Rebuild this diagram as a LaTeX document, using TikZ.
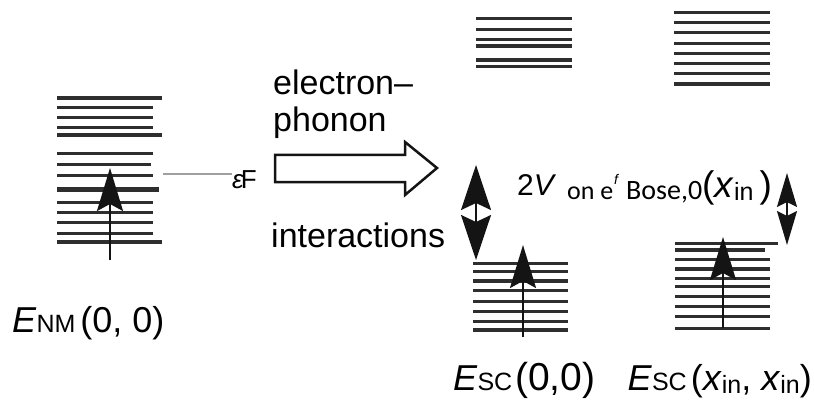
\documentclass[tikz,border=0pt]{standalone}
\usepackage{fontspec}
\setmainfont{Liberation Sans}
\newfontfamily\calfont{Carlito}
\usetikzlibrary{arrows.meta}
\usepackage{xcolor}
\definecolor{levelink}{HTML}{141414}
\definecolor{levelgray}{HTML}{2E2E2E}
\definecolor{fermigray}{HTML}{A0A0A0}

\newcommand{\lblfont}{\fontsize{36}{40}\selectfont}
\newcommand{\subfont}{\fontsize{25}{28}\selectfont}
\newcommand{\xinsym}{\textit{x}\raisebox{-3pt}{\subfont in}}

\tikzset{
  levelline/.style={draw=levelgray, line width=3.2pt},
  uparrow/.style={draw=levelink, line width=2.2pt,
    -{Stealth[length=43pt, width=26pt, inset=7pt]}},
  gaparrow/.style={draw=levelink, line width=2pt,
    {Stealth[length=45pt, width=30pt, inset=7pt]}-{Stealth[length=45pt, width=30pt, inset=7pt]}},
  smallgap/.style={draw=levelink, line width=2pt,
    {Stealth[length=34pt, width=20pt, inset=5pt]}-{Stealth[length=34pt, width=20pt, inset=5pt]}},
  blockarrow/.style={draw=levelink, fill=white, line width=2.5pt, line join=miter},
  arrowtext/.style={anchor=base west, inner sep=0pt, font=\fontsize{34}{38}\selectfont},
  statelabel/.style={inner sep=0pt, font=\lblfont}
}

\begin{document}
\begin{tikzpicture}[x=1pt, y=-1pt]

  \useasboundingbox (0,0) rectangle (814,401);

  % Normal metal levels
  \foreach \y/\xr/\lw in {98.3/162/3.6, 107.3/153/2.8, 117.7/153/3.2, 127.7/153/2.8,
      135/162/3.6, 154/153/3, 165/151/3, 175.7/153/3.2, 189.3/159/5.5,
      202.3/153/3.2, 212.3/153/3.2, 222.7/153/3.2, 233.3/153/3.2, 241.7/162/3.6} {
    \draw[levelline, line width=\lw pt] (57,\y) -- (\xr,\y);
  }

  % Fermi level marker
  \coordinate (fermistart) at (163,174);
  \node[anchor=base west, inner sep=0pt, font=\fontsize{26}{28}\selectfont] (ef) at (232,188)
    {\textit{ε}\kern-3pt F};
  \draw[fermigray, line width=2.5pt] (fermistart) -- (ef.west |- fermistart);

  % Occupation arrow (normal metal)
  \coordinate (nmtail) at (110,260);
  \coordinate (nmtip) at (110,168);
  \draw[uparrow] (nmtail) -- (nmtip);

  % Block arrow and its caption
  \node[arrowtext] (elec) at (273,95) {electron–};
  \node[arrowtext] (phon) at (273,132) {phonon};
  \draw[blockarrow] (275,155) -- (405,155) -- (405,142) -- (437,168)
    -- (405,195) -- (405,182) -- (275,182) -- cycle;
  \node[arrowtext] (inter) at (271,247) {interactions};

  % Superconductor, upper levels
  \foreach \y in {18.3, 29.3, 39.3, 46, 60, 66.7} {
    \draw[levelline] (476,\y) -- (572,\y);
  }
  \foreach \y in {12.3, 22.7, 32.7, 43.3, 53.3, 63.3, 73.3, 84} {
    \draw[levelline] (674,\y) -- (770,\y);
  }

  % Superconductor, lower levels
  \foreach \y in {263.3, 271.7, 281, 290.7, 301.7, 311.7, 321.7, 330} {
    \draw[levelline] (473,\y) -- (568,\y);
  }
  \draw[levelline] (675,243.3) -- (778,243.3);
  \draw[levelline] (675,250) -- (765,250);
  \foreach \y in {259.3, 269, 278.3, 286.7, 296.7, 306.7, 316.7, 328.3} {
    \draw[levelline] (675,\y) -- (770,\y);
  }

  % Gap arrows
  \coordinate (gaptop) at (476,165);
  \coordinate (gapbot) at (476,260);
  \draw[gaparrow] (gaptop) -- (gapbot);
  \coordinate (shifttop) at (787,173);
  \coordinate (shiftbot) at (787,245);
  \draw[smallgap] (shifttop) -- (shiftbot);

  % Occupation arrows (superconductor)
  \coordinate (sctail) at (523,337);
  \coordinate (sctip) at (523,245);
  \draw[uparrow] (sctail) -- (sctip);
  \coordinate (bosetail) at (723,328);
  \coordinate (bosetip) at (723,237);
  \draw[uparrow] (bosetail) -- (bosetip);

  % Gap shift label
  \node[anchor=base west, inner sep=0pt, font=\fontsize{30}{32}\selectfont] (twov) at (517,196) {2\textit{V}};
  \node[anchor=base west, inner sep=0pt, font=\calfont\fontsize{26}{28}\selectfont] (one) at (567,199) {on e};
  \node[anchor=base west, inner sep=0pt, font=\fontsize{14}{15}\selectfont\itshape] (fsup) at (614,185) {f};
  \node[anchor=base west, inner sep=0pt, font=\calfont\fontsize{28}{30}\selectfont] (bose) at (626,199) {Bose,0};
  \node[anchor=base west, inner sep=0pt, font=\fontsize{37}{40}\selectfont] (xarg) at (702,197)
    {(\xinsym\,)};

  % State labels
  \node[statelabel, anchor=base west] (enm) at (12,332)
    {\textit{E}{\subfont NM}\kern5pt(0, 0)};
  \node[statelabel, anchor=base west] (esc) at (453,390)
    {\textit{E}{\subfont SC}\kern3pt{\fontsize{39}{42}\selectfont(0,0)}};
  \node[statelabel, anchor=base east] (escx) at (812,390)
    {\textit{E}{\subfont SC}\kern4pt(\xinsym, \xinsym)};

\end{tikzpicture}
\end{document}
